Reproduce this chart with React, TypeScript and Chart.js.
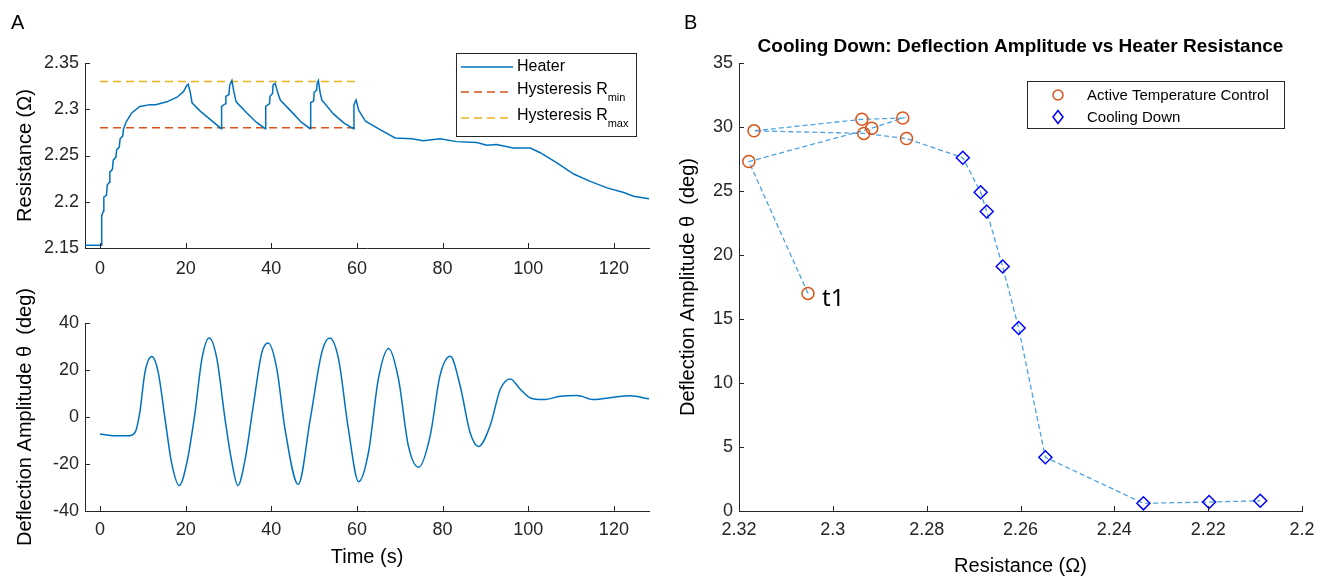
import React, { useEffect, useRef } from 'react';
import { Chart, registerables } from 'chart.js';

Chart.register(...registerables);

const FONT = "'Liberation Sans', Arial, Helvetica, sans-serif";
const AXIS = '#262626';

// ---------- Panel A, top: heater resistance ----------
const heaterTime = [
  -3.5, 0.3, 0.4, 0.8, 0.9, 1.5, 1.7, 2.2, 2.3, 2.9, 3.1, 3.7, 3.9, 4.5, 4.7, 5.3, 5.5, 6.2, 7.4, 9.3,
  11.7, 13.0, 15.6, 18.0, 19.5, 20.3, 20.6, 21.1, 21.5, 23.4, 26.0, 28.3,
  28.4, 29.3, 29.4, 30.1, 30.3, 30.8, 31.3, 31.8, 34.3, 36.5, 38.6,
  38.7, 39.6, 39.7, 40.3, 40.4, 40.9, 41.5, 42.1, 45.2, 47.0, 49.1,
  49.2, 49.9, 50.0, 50.6, 50.7, 51.0, 51.4, 51.8, 54.5, 57.0, 59.2,
  59.3, 59.8, 60.4, 62.0, 65.4, 68.9, 72.8, 75.5, 79.4, 83.3, 88.0, 90.3, 92.6, 96.5,
  100.5, 102.8, 106.7, 110.6, 114.5, 118.4, 122.3, 124.6, 128.4,
];
const heaterR = [
  2.153, 2.153, 2.185, 2.19, 2.205, 2.207, 2.218, 2.221, 2.232, 2.235, 2.245, 2.248, 2.256, 2.259, 2.268, 2.271, 2.279, 2.287, 2.296, 2.303,
  2.305, 2.305, 2.308, 2.313, 2.319, 2.326, 2.327, 2.318, 2.307, 2.298, 2.288, 2.279,
  2.303, 2.306, 2.314, 2.316, 2.326, 2.331, 2.318, 2.308, 2.296, 2.286, 2.279,
  2.303, 2.306, 2.314, 2.317, 2.326, 2.328, 2.318, 2.31, 2.295, 2.286, 2.279,
  2.307, 2.309, 2.318, 2.321, 2.328, 2.331, 2.318, 2.31, 2.295, 2.285, 2.279,
  2.305, 2.31, 2.299, 2.287, 2.278, 2.269, 2.268, 2.266, 2.268, 2.265, 2.264, 2.261, 2.262, 2.258,
  2.258, 2.253, 2.242, 2.23, 2.222, 2.215, 2.21, 2.206, 2.203,
];
const hysteresisTime = [0, 60];
const hysteresisRmin = [2.28, 2.28];
const hysteresisRmax = [2.33, 2.33];
const timeTicks = [0, 20, 40, 60, 80, 100, 120];
const resistanceTicks = [2.15, 2.2, 2.25, 2.3, 2.35];

// ---------- Panel A, bottom: deflection amplitude ----------
const waveTime = [
  0, 3.5, 6.6, 8.2, 9.3, 10.5, 12.1, 13.6, 15.2, 16.7, 18.5, 20.3, 22.2, 23.8, 25.5, 27.3, 29.2, 30.8, 32.2, 33.9,
  35.8, 37.8, 39.3, 41.3, 43.2, 46.3, 49.1, 51.8, 53.6, 55.7, 58, 60.4, 62.7, 65, 67.4, 69.7, 72, 74.4, 77.1,
  79.4, 81.8, 84.1, 86.4, 88.4, 91.1, 93.5, 95.8, 98.1, 100.5, 103.6, 107.5, 111.4, 115.3, 119.9, 123.8, 128.3,
];
const waveAngle = [
  -7.2, -8, -8, -6.5, 2, 19, 25.7, 19, -0.9, -19.3, -29.2, -19.3, 2, 24.7, 33.6, 24.7, -0.9, -19.3, -29.2, -17.9,
  4.8, 27.5, 31.5, 20.4, -5.1, -28.7, -0.9, 27.5, 33.6, 24.7, -5.1, -27.5, -15, 16.2, 29.2, 16.2, -12.2, -21.4, -8,
  17.6, 25.8, 13.3, -6.5, -12.6, -3.7, 11.9, 16.2, 11.9, 8.1, 7.4, 8.8, 9.1, 7.4, 8.4, 9, 7.7,
];
const angleTicks = [-40, -20, 0, 20, 40];

// ---------- Panel B: amplitude vs resistance ----------
const activeR = [2.3053, 2.3179, 2.2917, 2.2851, 2.2938, 2.3168, 2.2934, 2.2843];
const activeTheta = [17.0, 27.3, 29.9, 30.7, 30.6, 29.7, 29.5, 29.1];
const coolR = [2.2723, 2.2685, 2.2672, 2.2638, 2.2604, 2.2547, 2.2338, 2.2198, 2.2089];
const coolTheta = [27.6, 24.9, 23.4, 19.1, 14.3, 4.2, 0.6, 0.7, 0.8];
const pointLabels = ['t1'];
const resistanceTicksB = [2.32, 2.3, 2.28, 2.26, 2.24, 2.22, 2.2];
const thetaTicks = [0, 5, 10, 15, 20, 25, 30, 35];

const xy = (xs: number[], ys: number[]) => xs.map((x, i) => ({ x, y: ys[i] }));
const fmt = (v: any) => String(Number(Number(v).toFixed(3)));

function axis(o: {
  min: number; max: number; ticks: number[]; horizontal: boolean; size: number;
  padding: number; title?: string; titlePad?: number; reverse?: boolean;
}): any {
  return {
    type: 'linear',
    min: o.min,
    max: o.max,
    reverse: !!o.reverse,
    afterBuildTicks: (s: any) => { s.ticks = o.ticks.map((v) => ({ value: v })); },
    grid: { display: true, drawOnChartArea: false, drawTicks: false },
    border: { display: true, color: AXIS, width: 1 },
    ticks: {
      color: AXIS, font: { family: FONT, size: 18 }, padding: o.padding,
      autoSkip: false, maxRotation: 0, minRotation: 0, callback: fmt,
    },
    title: o.title
      ? { display: true, text: o.title, color: '#000', font: { family: FONT, size: 20 },
          padding: o.horizontal ? { top: 0, bottom: o.titlePad ?? 0 } : { top: o.titlePad ?? 0, bottom: 0 } }
      : { display: false },
    afterFit: (s: any) => { if (o.horizontal) s.height = o.size; else s.width = o.size; },
  };
}

const inwardTicks = {
  id: 'inwardTicks',
  afterDatasetsDraw(chart: any) {
    const { ctx, chartArea } = chart;
    ctx.save();
    ctx.strokeStyle = AXIS;
    ctx.lineWidth = 1;
    ['x', 'y'].forEach((id) => {
      const s = chart.scales[id];
      if (!s) return;
      s.ticks.forEach((t: any) => {
        const p = Math.round(s.getPixelForValue(t.value)) + 0.5;
        ctx.beginPath();
        if (id === 'x') { ctx.moveTo(p, chartArea.bottom); ctx.lineTo(p, chartArea.bottom - 5); }
        else { ctx.moveTo(chartArea.left, p); ctx.lineTo(chartArea.left + 5, p); }
        ctx.stroke();
      });
    });
    ctx.restore();
  },
};

const heaterLegend = {
  id: 'heaterLegend',
  afterDraw(chart: any) {
    const { ctx, chartArea } = chart;
    const w = 180, h = 83;
    const x0 = chartArea.right - 13 - w;
    const y0 = chartArea.top - 10;
    const rows = [14, 39, 65];
    ctx.save();
    ctx.fillStyle = '#fff';
    ctx.fillRect(x0, y0, w, h);
    ctx.strokeStyle = AXIS;
    ctx.lineWidth = 1;
    ctx.strokeRect(x0 + 0.5, y0 + 0.5, w, h);
    chart.data.datasets.forEach((ds: any, i: number) => {
      const y = y0 + rows[i];
      ctx.beginPath();
      ctx.setLineDash(ds.borderDash || []);
      ctx.strokeStyle = ds.borderColor;
      ctx.lineWidth = 1.5;
      ctx.moveTo(x0 + 5, y);
      ctx.lineTo(x0 + 57, y);
      ctx.stroke();
      ctx.setLineDash([]);
      const [main, sub] = String(ds.label).split('_');
      ctx.fillStyle = '#000';
      ctx.textAlign = 'left';
      ctx.textBaseline = 'middle';
      ctx.font = `16px ${FONT}`;
      ctx.fillText(main, x0 + 61, y - (sub ? 2 : 0));
      if (sub) {
        const mw = ctx.measureText(main).width;
        ctx.font = `11px ${FONT}`;
        ctx.fillText(sub, x0 + 61 + mw, y + 6);
      }
    });
    ctx.restore();
  },
};

const markerLegend = {
  id: 'markerLegend',
  afterDraw(chart: any) {
    const { ctx, chartArea } = chart;
    const w = 257, h = 47;
    const x0 = chartArea.right - 18 - w;
    const y0 = chartArea.top + 18;
    const rows = [14, 36];
    ctx.save();
    ctx.fillStyle = '#fff';
    ctx.fillRect(x0, y0, w, h);
    ctx.strokeStyle = AXIS;
    ctx.lineWidth = 1;
    ctx.strokeRect(x0 + 0.5, y0 + 0.5, w, h);
    chart.data.datasets.slice(0, 2).forEach((ds: any, i: number) => {
      const y = y0 + rows[i];
      const mx = x0 + 31;
      ctx.beginPath();
      ctx.strokeStyle = ds.pointBorderColor;
      ctx.lineWidth = 1.5;
      if (ds.pointStyle === 'circle') {
        ctx.arc(mx, y, 5, 0, Math.PI * 2);
      } else {
        ctx.moveTo(mx, y - 6.5); ctx.lineTo(mx + 5, y); ctx.lineTo(mx, y + 6.5); ctx.lineTo(mx - 5, y); ctx.closePath();
      }
      ctx.stroke();
      ctx.fillStyle = '#000';
      ctx.textAlign = 'left';
      ctx.textBaseline = 'middle';
      ctx.font = `15px ${FONT}`;
      ctx.fillText(ds.label, x0 + 60, y + 1);
    });
    ctx.restore();
  },
};

const pointLabelPlugin = {
  id: 'pointLabel',
  afterDatasetsDraw(chart: any) {
    const { ctx } = chart;
    const meta = chart.getDatasetMeta(0);
    ctx.save();
    ctx.fillStyle = '#000';
    ctx.font = `24px 'Noto Sans', 'Open Sans', sans-serif`;
    ctx.textAlign = 'left';
    ctx.textBaseline = 'middle';
    pointLabels.forEach((txt, i) => {
      const p = meta.data[i];
      if (p) ctx.fillText(txt, p.x + 14, p.y + 6);
    });
    ctx.restore();
  },
};

const base = {
  responsive: false,
  animation: false as const,
  devicePixelRatio: 1,
  events: [] as any[],
};

function topConfig(): any {
  return {
    type: 'line',
    data: {
      datasets: [
        { label: 'Heater', data: xy(heaterTime, heaterR), borderColor: '#0072BD', borderWidth: 1.5, pointRadius: 0, tension: 0 },
        { label: 'Hysteresis R_min', data: xy(hysteresisTime, hysteresisRmin), borderColor: '#D95319', borderWidth: 1.5, borderDash: [8, 5], pointRadius: 0 },
        { label: 'Hysteresis R_max', data: xy(hysteresisTime, hysteresisRmax), borderColor: '#EDB120', borderWidth: 1.5, borderDash: [8, 5], pointRadius: 0 },
      ],
    },
    options: {
      ...base,
      layout: { padding: { left: 0, right: 31, top: 63, bottom: 0 } },
      plugins: { legend: { display: false }, tooltip: { enabled: false }, title: { display: false } },
      scales: {
        x: axis({ min: -3.5, max: 128.2, ticks: timeTicks, horizontal: true, size: 42, padding: 10 }),
        y: axis({ min: 2.15, max: 2.35, ticks: resistanceTicks, horizontal: false, size: 85, padding: 6, title: 'Resistance (Ω)', titlePad: 13 }),
      },
    },
    plugins: [inwardTicks, heaterLegend],
  };
}

function bottomConfig(): any {
  return {
    type: 'line',
    data: {
      datasets: [
        { label: 'Deflection', data: xy(waveTime, waveAngle), borderColor: '#0072BD', borderWidth: 1.5, pointRadius: 0, cubicInterpolationMode: 'monotone' },
      ],
    },
    options: {
      ...base,
      layout: { padding: { left: 0, right: 31, top: 43, bottom: 0 } },
      plugins: { legend: { display: false }, tooltip: { enabled: false }, title: { display: false } },
      scales: {
        x: axis({ min: -3.5, max: 128.2, ticks: timeTicks, horizontal: true, size: 67, padding: 8, title: 'Time (s)', titlePad: 9 }),
        y: axis({ min: -40, max: 40, ticks: angleTicks, horizontal: false, size: 85, padding: 6, title: 'Deflection Amplitude θ  (deg)', titlePad: 13 }),
      },
    },
    plugins: [inwardTicks],
  };
}

function rightConfig(): any {
  return {
    type: 'scatter',
    data: {
      datasets: [
        { label: 'Active Temperature Control', data: xy(activeR, activeTheta), pointStyle: 'circle', pointRadius: 6, pointBorderWidth: 1.5,
          pointBorderColor: '#D95319', pointBackgroundColor: 'rgba(0,0,0,0)', showLine: false, order: 1 },
        { label: 'Cooling Down', data: xy(coolR, coolTheta), pointStyle: 'rectRot', pointRadius: 6.5, pointBorderWidth: 1.5,
          pointBorderColor: '#0000FF', pointBackgroundColor: 'rgba(0,0,0,0)', showLine: false, order: 1 },
        { label: 'path', data: xy([...activeR, ...coolR], [...activeTheta, ...coolTheta]), showLine: true, pointRadius: 0,
          borderColor: '#4DA3E0', borderWidth: 1.3, borderDash: [5, 3], order: 2 },
      ],
    },
    options: {
      ...base,
      layout: { padding: { left: 0, right: 23, top: 0, bottom: 0 } },
      plugins: {
        legend: { display: false },
        tooltip: { enabled: false },
        title: {
          display: true, text: 'Cooling Down: Deflection Amplitude vs Heater Resistance', fullSize: false,
          color: '#000', font: { family: FONT, size: 19, weight: 'bold' }, padding: { top: 35, bottom: 5.2 },
        },
      },
      scales: {
        x: axis({ min: 2.2, max: 2.32, reverse: true, ticks: resistanceTicksB, horizontal: true, size: 67, padding: 8, title: 'Resistance (Ω)', titlePad: 0 }),
        y: axis({ min: 0, max: 35, ticks: thetaTicks, horizontal: false, size: 63, padding: 6, title: 'Deflection Amplitude θ  (deg)', titlePad: 0 }),
      },
    },
    plugins: [inwardTicks, markerLegend, pointLabelPlugin],
  };
}

function ChartCanvas(props: { make: () => any; left: number; top: number; width: number; height: number }) {
  const ref = useRef<HTMLCanvasElement>(null);
  useEffect(() => {
    const chart = new Chart(ref.current as HTMLCanvasElement, props.make());
    return () => chart.destroy();
  }, []);
  return (
    <canvas
      ref={ref}
      width={props.width}
      height={props.height}
      style={{ position: 'absolute', left: props.left, top: props.top, width: props.width, height: props.height }}
    />
  );
}

const panelLabel: React.CSSProperties = {
  position: 'absolute', fontFamily: FONT, fontSize: 20, lineHeight: '20px', color: '#000',
};

export default function App() {
  Chart.defaults.font.family = FONT;
  return (
    <div style={{ position: 'absolute', left: 0, top: 0, width: 1325, height: 578, overflow: 'hidden', background: '#fff' }}>
      <ChartCanvas make={topConfig} left={0} top={0} width={680} height={290} />
      <ChartCanvas make={bottomConfig} left={0} top={280} width={680} height={298} />
      <ChartCanvas make={rightConfig} left={676} top={0} width={649} height={578} />
      <div style={{ ...panelLabel, left: 11, top: 12 }}>A</div>
      <div style={{ ...panelLabel, left: 684, top: 12 }}>B</div>
    </div>
  );
}
